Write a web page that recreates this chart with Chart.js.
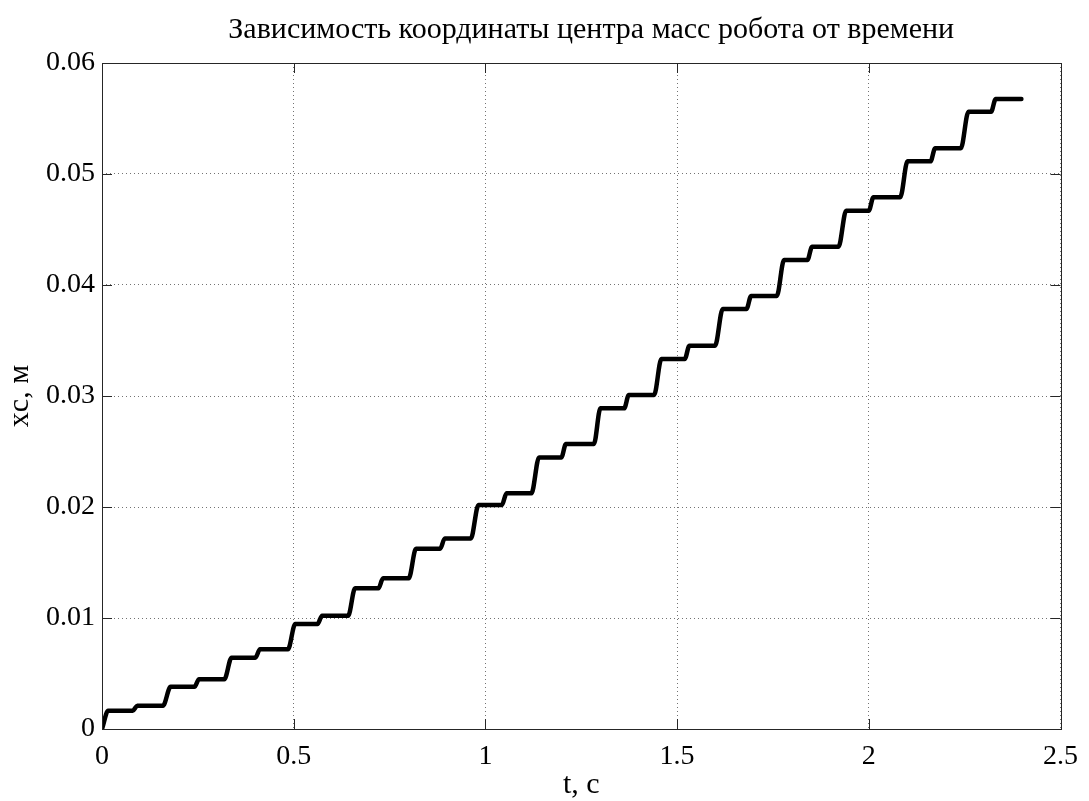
<!DOCTYPE html>
<html>
<head>
<meta charset="utf-8">
<style>
  html, body { margin: 0; padding: 0; background: #fff; }
  #wrap { width: 1089px; height: 801px; }
</style>
<script src="https://cdn.jsdelivr.net/npm/chart.js@4/dist/chart.umd.min.js"></script>
</head>
<body>
<div id="wrap"><canvas id="c" width="1089" height="801"></canvas></div>
<script>
// time, s
const tValues = [
  0, 0.016,
  0.080, 0.092, 0.159, 0.179, 0.241, 0.253, 0.319, 0.338,
  0.400, 0.412, 0.485, 0.504, 0.562, 0.574, 0.642, 0.660,
  0.721, 0.733, 0.800, 0.819, 0.882, 0.894, 0.962, 0.982,
  1.043, 1.055, 1.120, 1.140, 1.198, 1.210, 1.283, 1.300,
  1.362, 1.374, 1.440, 1.459, 1.520, 1.532, 1.599, 1.619,
  1.681, 1.693, 1.760, 1.779, 1.840, 1.852, 1.921, 1.941,
  2.000, 2.012, 2.082, 2.101, 2.161, 2.173, 2.240, 2.260,
  2.319, 2.331, 2.398
];

// centre-of-mass coordinate xc, m
const xcValues = [
  0, 0.00164,
  0.00164, 0.0021, 0.0021, 0.0038, 0.0038, 0.00448, 0.00448, 0.00643,
  0.00643, 0.00718, 0.00718, 0.00946, 0.00946, 0.0102, 0.0102, 0.01267,
  0.01267, 0.01357, 0.01357, 0.01624, 0.01624, 0.01717, 0.01717, 0.02018,
  0.02018, 0.02123, 0.02123, 0.02447, 0.02447, 0.02568, 0.02568, 0.02889,
  0.02889, 0.03009, 0.03009, 0.03333, 0.03333, 0.03453, 0.03453, 0.03784,
  0.03784, 0.03901, 0.03901, 0.04225, 0.04225, 0.04345, 0.04345, 0.0467,
  0.0467, 0.0479, 0.0479, 0.05114, 0.05114, 0.05231, 0.05231, 0.05561,
  0.05561, 0.05676, 0.05676
];

const xTicks = [0, 0.5, 1, 1.5, 2, 2.5];
const xTickLabels = ['0', '0.5', '1', '1.5', '2', '2.5'];
const yTicks = [0, 0.01, 0.02, 0.03, 0.04, 0.05, 0.06];
const yTickLabels = ['0', '0.01', '0.02', '0.03', '0.04', '0.05', '0.06'];

const titleText = 'Зависимость координаты центра масс робота от времени';
const xTitle = 't, c';
const yTitle = 'xc, м';

const SERIF = '"Liberation Serif", "Times New Roman", serif';

const points = tValues.map((t, i) => ({ x: t, y: xcValues[i] }));

// Axes box with inward tick marks on all four sides, plus the title above the axes
const boxPlugin = {
  id: 'axesBox',
  afterDatasetsDraw(chart) {
    const { ctx, chartArea: a, scales } = chart;
    const len = 10;
    ctx.save();
    ctx.strokeStyle = '#262626';
    ctx.lineWidth = 1;
    ctx.beginPath();
    xTicks.forEach(v => {
      const px = Math.round(scales.x.getPixelForValue(v)) + 0.5;
      ctx.moveTo(px, a.bottom); ctx.lineTo(px, a.bottom - len);
      ctx.moveTo(px, a.top); ctx.lineTo(px, a.top + len);
    });
    yTicks.forEach(v => {
      const py = Math.round(scales.y.getPixelForValue(v)) + 0.5;
      ctx.moveTo(a.left, py); ctx.lineTo(a.left + len, py);
      ctx.moveTo(a.right, py); ctx.lineTo(a.right - len, py);
    });
    ctx.stroke();
    ctx.strokeRect(Math.round(a.left) + 0.5, Math.round(a.top) + 0.5,
                   Math.round(a.right - a.left), Math.round(a.bottom - a.top));

    ctx.fillStyle = '#000';
    ctx.font = '30px ' + SERIF;
    ctx.textAlign = 'center';
    ctx.textBaseline = 'middle';
    ctx.fillText(titleText, (a.left + a.right) / 2 + 10, 30);
    ctx.restore();
  }
};

new Chart(document.getElementById('c'), {
  type: 'line',
  data: {
    datasets: [{
      data: points,
      borderColor: '#000',
      borderWidth: 4.5,
      pointRadius: 0,
      fill: false,
      cubicInterpolationMode: 'monotone',
      borderJoinStyle: 'round',
      borderCapStyle: 'round'
    }]
  },
  options: {
    responsive: false,
    animation: false,
    devicePixelRatio: 1,
    layout: { padding: { left: 0, right: 21, top: 63, bottom: 0 } },
    plugins: {
      legend: { display: false },
      tooltip: { enabled: false },
      title: { display: false }
    },
    scales: {
      x: {
        type: 'linear',
        min: 0, max: 2.5,
        afterFit(scale) { scale.height = 72; },
        afterBuildTicks(scale) { scale.ticks = xTicks.map(v => ({ value: v })); },
        ticks: {
          color: '#000',
          font: { family: SERIF, size: 28 },
          padding: 11,
          maxRotation: 0,
          autoSkip: false,
          callback: (v) => xTickLabels[xTicks.indexOf(v)]
        },
        grid: { color: 'rgba(0,0,0,0.55)', lineWidth: 1, drawTicks: false },
        border: { display: false, dash: [1, 3] },
        title: {
          display: true, text: xTitle, color: '#000',
          font: { family: SERIF, size: 30, lineHeight: 1 },
          padding: { top: 0, bottom: 1 }
        }
      },
      y: {
        type: 'linear',
        min: 0, max: 0.06,
        afterFit(scale) { scale.width = 102; },
        afterBuildTicks(scale) { scale.ticks = yTicks.map(v => ({ value: v })); },
        ticks: {
          color: '#000',
          font: { family: SERIF, size: 28 },
          padding: 7,
          autoSkip: false,
          callback: (v) => yTickLabels[yTicks.indexOf(v)]
        },
        grid: { color: 'rgba(0,0,0,0.55)', lineWidth: 1, drawTicks: false },
        border: { display: false, dash: [1, 3] },
        title: {
          display: true, text: yTitle, color: '#000',
          font: { family: SERIF, size: 30, lineHeight: 1 },
          padding: { top: 5, bottom: 0 }
        }
      }
    }
  },
  plugins: [boxPlugin]
});
</script>
</body>
</html>
